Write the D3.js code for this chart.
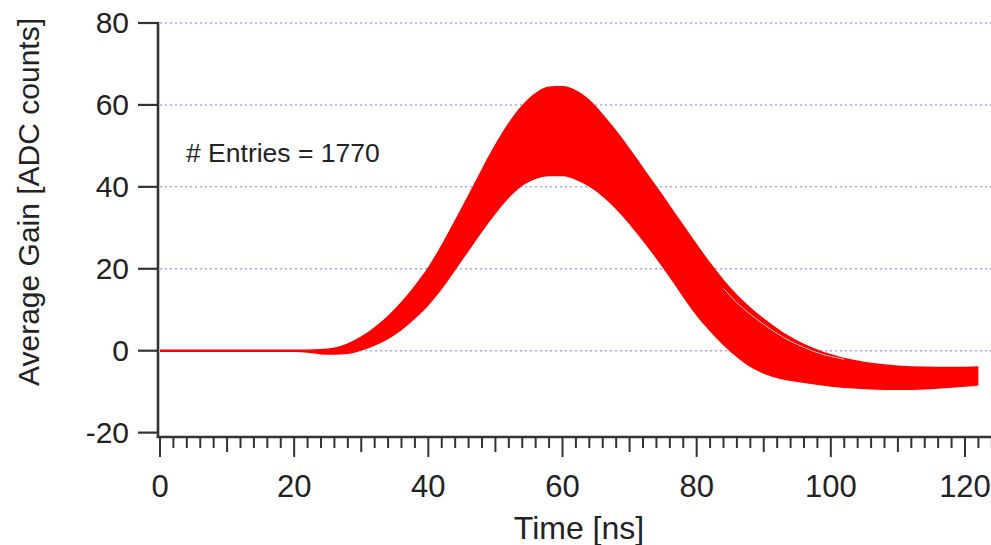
<!DOCTYPE html>
<html>
<head>
<meta charset="utf-8">
<script src="https://cdn.jsdelivr.net/npm/d3@7"></script>
<style>
  html, body { margin: 0; padding: 0; background: #fff; }
  svg { display: block; }
  text { font-family: "Liberation Sans", Arial, Helvetica, sans-serif; fill: #222; }
</style>
</head>
<body>
<svg id="chart" width="991" height="545"></svg>
<script>
// ---- data ----
const times = [0, 10, 20, 22, 24, 26, 28, 30, 32, 34, 36, 38, 40, 42, 44, 46, 48, 50, 52, 54, 56, 58, 60,
  62, 64, 66, 68, 70, 72, 74, 76, 78, 80, 82, 84, 86, 88, 90, 92, 94, 96, 98, 100, 104, 108, 112, 116, 120, 122];
const upperEnvelope = [0.3, 0.3, 0.3, 0.3, 0.4, 0.8, 1.8, 3.5, 5.8, 8.6, 12, 16, 20.5, 26, 32, 38.2, 44.5, 50.5, 55.8, 60, 63, 64.5, 64.6,
  63.6, 61.3, 57.8, 53.8, 49.4, 44.8, 40.2, 35.5, 30.8, 26.1, 21.6, 17.4, 13.7, 10.6, 7.9, 5.5, 3.4, 1.7, 0.3, -0.8, -2.4, -3.3, -3.8, -3.9, -3.9, -3.8];
const lowerEnvelope = [-0.3, -0.3, -0.3, -0.5, -0.9, -1.0, -0.8, 0, 1.2, 2.8, 5, 7.8, 11, 15, 19.6, 24.3, 29, 33.4, 37.3, 40.2, 41.9, 42.6, 42.6,
  41.7, 40, 37.6, 34.5, 30.8, 26.7, 22.4, 17.8, 13, 8.5, 4.7, 1.3, -1.6, -4.0, -5.6, -6.7, -7.4, -7.9, -8.4, -8.8, -9.3, -9.6, -9.6, -9.3, -8.8, -8.5];
// thin gap between a few late traces and the rest, on the falling edge
const gapTimes = [84, 86, 88, 90, 92, 94, 96, 98, 100, 102];
const gapValues = [15.2, 11.7, 8.9, 6.4, 4.2, 2.3, 0.8, -0.5, -1.4, -2.1];

const yTicks = [-20, 0, 20, 40, 60, 80];
const gridValues = [0, 20, 40, 60, 80];
const xMajorTicks = [0, 20, 40, 60, 80, 100, 120];
const entriesLabel = "# Entries = 1770";
const xTitle = "Time [ns]";
const yTitle = "Average Gain [ADC counts]";

// ---- layout ----
const svg = d3.select("#chart");
const x = d3.scaleLinear().domain([0, 120]).range([160, 965]);
const y = d3.scaleLinear().domain([0, 80]).range([350.7, 23]);
const axisX0 = 158, axisX1 = 991;
const axisYBottom = 437, axisYTop = 23;

// gridlines
svg.append("g").selectAll("line").data(gridValues).join("line")
  .attr("x1", x(0)).attr("x2", axisX1)
  .attr("y1", d => y(d)).attr("y2", d => y(d))
  .attr("stroke", "#a4a4ff").attr("stroke-width", 1.5)
  .attr("stroke-dasharray", "2,3");

// band of traces
const band = times.map((t, i) => ({t, hi: upperEnvelope[i], lo: lowerEnvelope[i]}));
const area = d3.area()
  .x(d => x(d.t)).y0(d => y(d.lo)).y1(d => y(d.hi))
  .curve(d3.curveMonotoneX);
svg.append("path").datum(band).attr("d", area).attr("fill", "#ff0000");

const gap = gapTimes.map((t, i) => ({t, v: gapValues[i]}));
svg.append("path").datum(gap)
  .attr("d", d3.line().x(d => x(d.t)).y(d => y(d.v)).curve(d3.curveMonotoneX))
  .attr("fill", "none").attr("stroke", "#fff").attr("stroke-width", 0.9).attr("stroke-opacity", 0.85);

// axes
const axisColor = "#333";
svg.append("line").attr("x1", axisX0).attr("x2", axisX0).attr("y1", axisYTop - 1).attr("y2", axisYBottom + 1)
  .attr("stroke", axisColor).attr("stroke-width", 2.6);
svg.append("line").attr("x1", axisX0 - 1.3).attr("x2", axisX1).attr("y1", axisYBottom).attr("y2", axisYBottom)
  .attr("stroke", axisColor).attr("stroke-width", 2.6);

// y ticks
svg.append("g").selectAll("line").data(yTicks).join("line")
  .attr("x1", 138).attr("x2", axisX0).attr("y1", d => y(d)).attr("y2", d => y(d))
  .attr("stroke", axisColor).attr("stroke-width", 2.2);
svg.append("g").selectAll("text").data(yTicks).join("text")
  .attr("x", 129).attr("y", d => y(d) + 10)
  .attr("text-anchor", "end").attr("font-size", 30)
  .text(d => d);

// x ticks every 2 ns
const xAllTicks = d3.range(0, 125, 2);
svg.append("g").selectAll("line").data(xAllTicks).join("line")
  .attr("x1", d => x(d)).attr("x2", d => x(d))
  .attr("y1", axisYBottom)
  .attr("y2", d => axisYBottom + (d % 20 === 0 ? 20 : d % 10 === 0 ? 15 : 11))
  .attr("stroke", axisColor).attr("stroke-width", 2);
svg.append("g").selectAll("text").data(xMajorTicks).join("text")
  .attr("x", d => x(d)).attr("y", 497)
  .attr("text-anchor", "middle").attr("font-size", 31)
  .text(d => d);

// titles
svg.append("text").attr("x", 579).attr("y", 539).attr("text-anchor", "middle")
  .attr("font-size", 32).text(xTitle);
svg.append("text").attr("transform", "translate(39,202) rotate(-90)")
  .attr("text-anchor", "middle").attr("font-size", 30).text(yTitle);

// annotation
svg.append("text").attr("x", 186).attr("y", 162).attr("font-size", 26.5).text(entriesLabel);
</script>
</body>
</html>
